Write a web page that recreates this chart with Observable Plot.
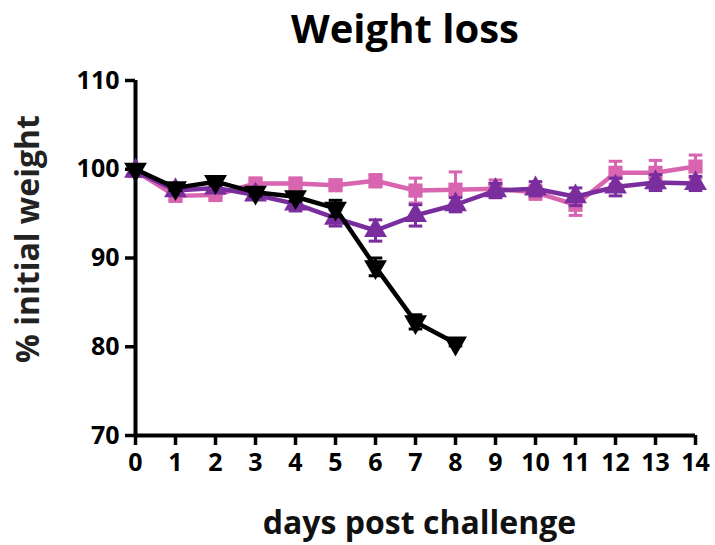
<!DOCTYPE html>
<html><head><meta charset="utf-8">
<script src="https://cdn.jsdelivr.net/npm/d3@7"></script>
<script src="https://cdn.jsdelivr.net/npm/@observablehq/plot@0.6"></script>
<style>
body{margin:0;background:#fff;font-family:"Open Sans",sans-serif;}
#title{width:715px;height:55px;box-sizing:border-box;padding-left:95px;text-align:center;font-weight:bold;font-size:40px;line-height:55px;color:#000;white-space:nowrap;}
svg{font-family:"Open Sans",sans-serif;font-weight:bold;}
</style></head>
<body>
<div id="title">Weight loss</div>
<div id="chart"></div>
<script>
const days = [0,1,2,3,4,5,6,7,8,9,10,11,12,13,14];
const pinkMean = [99.8, 97.0, 97.1, 98.4, 98.4, 98.2, 98.7, 97.6, 97.7, 97.8, 97.4, 96.0, 99.6, 99.6, 100.3];
const pinkErr  = [0.4, 0.5, 0.5, 0.4, 0.5, 0.5, 0.7, 1.4, 2.0, 1.0, 0.8, 1.2, 1.3, 1.4, 1.3];
const purpleMean = [99.8, 97.6, 97.9, 97.1, 96.1, 94.5, 93.1, 94.8, 96.0, 97.6, 97.8, 96.9, 98.0, 98.5, 98.4];
const purpleErr  = [0.3, 0.4, 0.4, 0.5, 0.8, 0.9, 1.2, 1.2, 0.8, 0.8, 0.8, 1.0, 1.0, 0.9, 0.8];
const blackDays = [0,1,2,3,4,5,6,7,8];
const blackMean = [100, 97.9, 98.6, 97.4, 96.9, 95.6, 89.0, 82.8, 80.4];
const blackErr  = [0.3, 0.3, 0.4, 0.4, 0.5, 0.9, 1.0, 0.8, 0.3];
const yTicks = [70,80,90,100,110];
const xTicks = days;
const yLabel = "% initial weight";
const xLabel = "days post challenge";

const mk = (ds, m, e) => ds.map((d,i)=>({day:d, v:m[i], lo:m[i]-e[i], hi:m[i]+e[i]}));
const pink = mk(days, pinkMean, pinkErr);
const purple = mk(days, purpleMean, purpleErr);
const black = mk(blackDays, blackMean, blackErr);
const PINK = "#d965b1", PURPLE = "#7a2e9e", BLACK = "#000";
const capW = 0.17;

function series(data, color, symbol, rotate){
  return [
    Plot.ruleX(data, {x:"day", y1:"lo", y2:"hi", stroke:color, strokeWidth:3}),
    Plot.link(data, {x1:d=>d.day-capW, x2:d=>d.day+capW, y1:"hi", y2:"hi", stroke:color, strokeWidth:3}),
    Plot.link(data, {x1:d=>d.day-capW, x2:d=>d.day+capW, y1:"lo", y2:"lo", stroke:color, strokeWidth:3}),
    Plot.line(data, {x:"day", y:"v", stroke:color, strokeWidth:4.5}),
    Plot.dot(data, {x:"day", y:"v", fill:color, stroke:"none", symbol, r: symbol==="square"?8:8.5, rotate})
  ];
}

const chart = Plot.plot({
  width:715, height:490,
  marginLeft:135, marginRight:20, marginTop:25, marginBottom:110,
  x:{domain:[0,14]},
  y:{domain:[70,110]},
  style:{fontSize:"25px", fontWeight:"bold", color:"#000", background:"#fff"},
  marks:[
    Plot.axisY({ticks:yTicks, tickSize:10, tickPadding:6, strokeWidth:3.5, fontSize:25, label:null}),
    Plot.axisX({ticks:xTicks, tickSize:10, tickPadding:8, strokeWidth:3.5, fontSize:25, label:null}),
    Plot.ruleX([0], {strokeWidth:4}),
    Plot.ruleY([70], {strokeWidth:4}),
    Plot.text([yLabel], {text:d=>d, frameAnchor:"left", textAnchor:"middle", rotate:-90, dx:-97, dy:-19, lineAnchor:"bottom", fontSize:32, fontWeight:"bold", fill:"#222"}),
    Plot.text([xLabel], {text:d=>d, frameAnchor:"bottom", textAnchor:"middle", dx:4, dy:98, lineAnchor:"bottom", fontSize:32, fontWeight:"bold", fill:"#111"}),
    ...series(pink, PINK, "square", 0),
    ...series(purple, PURPLE, "triangle", 0),
    ...series(black, BLACK, "triangle", 180)
  ]
});
document.getElementById("chart").appendChild(chart);
</script>
</body></html>
